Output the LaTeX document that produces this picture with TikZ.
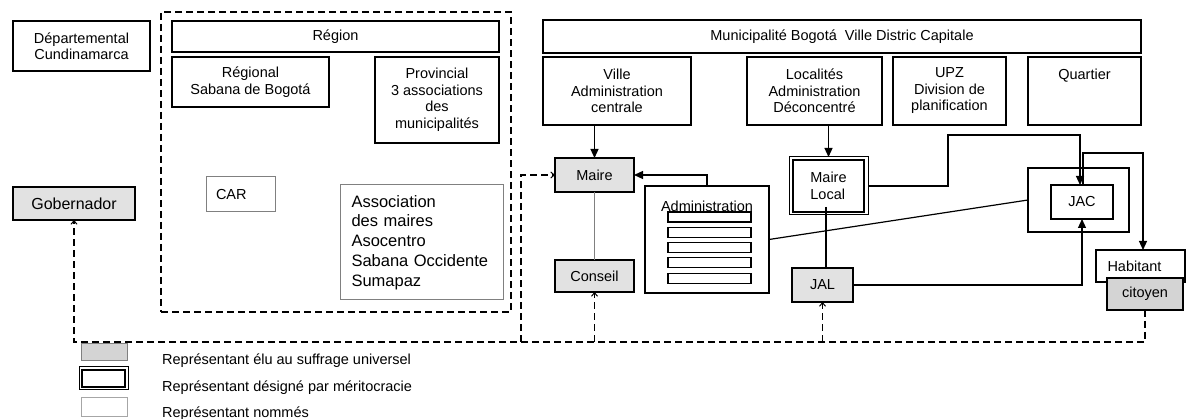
\documentclass[tikz,border=0pt]{standalone}
\usepackage{fontspec}
\setmainfont{Liberation Sans}
\usetikzlibrary{arrows.meta,fit}
\newcommand\fsz{\fontsize{14.5}{16.5}\selectfont}
\newcommand\fbig{\fontsize{16.5}{19.8}\selectfont}
\definecolor{elu}{HTML}{E2E2E2}
\definecolor{elud}{HTML}{D4D4D4}
\definecolor{thin}{HTML}{808080}
\tikzset{
  box/.style={draw=black, line width=1.2pt, inner sep=0pt, outer sep=0pt, align=center, font=\fsz},
  graybox/.style={box, draw=thin, line width=1pt},
  elected/.style={box, fill=elu},
  sz/.style 2 args={minimum width=#1pt, minimum height=#2pt},
  arr/.style={draw=black, line width=1.2pt, -{Triangle[length=9pt,width=8pt]}},
  line/.style={draw=black, line width=1.2pt},
  darr/.style={draw=black, line width=1.2pt, dash pattern=on 7pt off 4pt, -{Straight Barb[length=3.5pt,width=6pt,line width=1pt]}},
  dline/.style={draw=black, line width=1.2pt, dash pattern=on 7pt off 4pt},
  legtext/.style={anchor=base west, inner sep=0pt, font=\fsz}
}
\begin{document}
\begin{tikzpicture}[x=1pt,y=-1pt]
\useasboundingbox (0,0) rectangle (1187,419);
\fill[white] (0,0) rectangle (1187,419);

% left part
\node[box, sz={137}{50}] (dep) at (81.5,46) {Départemental\\Cundinamarca};
\node[elected, sz={122}{33}, font=\fontsize{16}{19}\selectfont] (gob) at (74,203.5) {Gobernador};

% region frame
\node[dline, sz={350}{300}, inner sep=0pt] (regframe) at (336,162) {};
\node[box, sz={327}{31}] (reg) at (335.5,36.5) {Région};
\node[box, sz={157}{50}] (regional) at (250.5,82) {Régional\\Sabana de Bogotá};
\node[box, sz={124}{86}] (prov) at (437,100) {Provincial\\3 associations\\des\\municipalités};
\node[graybox, sz={69}{35}, text width=49pt, inner xsep=10pt, align=left] (car) at (240.5,194.5) {CAR};
\node[graybox, sz={163}{115}, text width=140pt, inner xsep=11.5pt, align=left, font=\fbig] (assoc) at (421.5,242.5)
  {Association\\des maires\\Asocentro\\Sabana Occidente\\Sumapaz};

% municipality
\node[box, sz={598}{33}] (mun) at (842,36.5) {Municipalité Bogotá \ Ville Distric Capitale};
\node[box, sz={148}{68}] (ville) at (617,91) {Ville\\Administration\\centrale};
\node[box, sz={135}{68}] (loc) at (814.5,91) {Localités\\Administration\\Déconcentré};
\node[box, sz={113}{68}] (upz) at (949.5,91) {UPZ\\Division de\\planification};
\node[box, sz={113}{68}] (quart) at (1084.5,91) {Quartier\\\mbox{}\\\mbox{}};

\node[elected, sz={79}{34}] (maire) at (594.5,175) {Maire};
\node[elected, sz={79}{32}] (conseil) at (594.5,276) {Conseil};
\node[box, sz={124}{107}] (admin) at (707,239.5) {};
\node[inner sep=0pt, font=\fsz] (admintxt) at (707,206) {Administration};
\foreach \i/\y in {1/217,2/232.3,3/247.6,4/262.9,5/278.2}
  \node[box, sz={83}{10}] (bar\i) at (709.5,\y) {};

\node[box, line width=2.2pt, sz={71}{52}, align=left] (ml) at (828.5,186) {Maire\\Local};
\node[draw=black, line width=1pt, fit=(ml), inner xsep=4pt, inner ysep=3pt, outer sep=0pt] (mlout) {};
\node[elected, sz={61}{34}] (jal) at (822.5,285) {JAL};

\node[box, sz={101}{64}] (jacout) at (1078.5,200) {};
\node[box, sz={62}{34}] (jac) at (1082,202) {JAC};
\node[box, sz={89}{32}, text width=80pt, align=left, inner xsep=4.5pt] (hab) at (1140.5,266) {\hspace{7pt}Habitant};
\node[box, fill=elud, sz={76}{32}] (cit) at (1145,294) {citoyen};

% connectors
\draw[arr] (ville.south -| maire.north) -- (maire.north);
\draw[arr] (loc.south -| mlout.north) -- (mlout.north);
\draw[arr] (admin.north) |- (maire.east);
\draw[draw=thin, line width=1pt] (maire.south) -- (conseil.north);
\draw[line] ([xshift=-2.5pt,yshift=5pt]ml.south) -- ([xshift=-2.5pt]ml.south |- jal.north);
\draw[arr] (mlout.east) -| (948,135) -| ([xshift=-2pt]jac.north);
\draw[arr] ([xshift=1pt]jac.north) |- ([xshift=2.5pt]hab.north |- 0,153) -- ([xshift=2.5pt]hab.north);
\draw[arr] (jal.east) -| (jac.south);
\draw[line] (admin.east) -- (jacout.west);

% dashed election lines
\draw[darr] (cit.south) |- (gob.south |- 0,342) -- (gob.south);
\draw[darr] (conseil.south |- 0,342) -- (conseil.south);
\draw[darr] (jal.south |- 0,342) -- (jal.south);
\draw[darr] (521,342) |- (maire.west);

% legend
\node[box, draw=thin, line width=1pt, fill=elud, sz={46}{17}] (lg1) at (104,352.5) {};
\node[box, line width=2pt, sz={43}{17}] (lg2) at (103.5,378.5) {};
\node[draw=black, line width=1pt, fit=(lg2), inner xsep=3pt, inner ysep=3pt, outer sep=0pt] (lg2out) {};
\node[box, draw=thin!70, line width=1pt, sz={46}{19}] (lg3) at (104,407.5) {};
\node[legtext] (lt1) at (162,365) {Représentant élu au suffrage universel};
\node[legtext] (lt2) at (162,392) {Représentant désigné par méritocracie};
\node[legtext] (lt3) at (162,418) {Représentant nommés};
\end{tikzpicture}
\end{document}
